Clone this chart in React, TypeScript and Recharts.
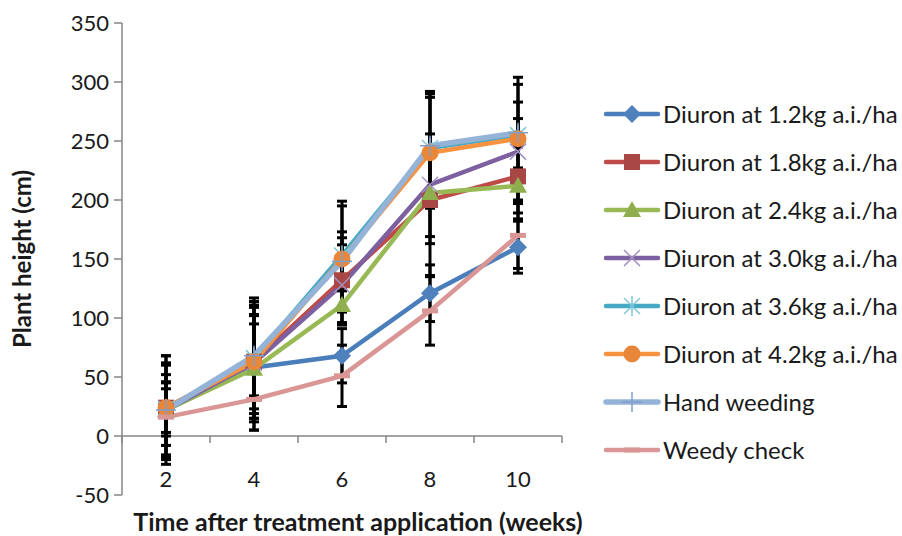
import { LineChart, Line, XAxis, YAxis, ErrorBar, ReferenceLine, Legend } from "recharts"

const FONT = "Lato, 'Open Sans', sans-serif"
const AXIS_GRAY = "#868686"
const TEXT = "#1a1a1a"

const WEEKS = [2, 4, 6, 8, 10]
const Y_TICKS = [-50, 0, 50, 100, 150, 200, 250, 300, 350]

// mean plant height (cm) per week
const D12 = [22, 58, 68, 121, 160]
const D18 = [24, 63, 132, 200, 220]
const D24 = [22, 57, 111, 206, 212]
const D30 = [22, 62, 128, 213, 241]
const D36 = [23, 66, 153, 244, 255]
const D42 = [24, 63, 150, 240, 252]
const HAND = [22, 68, 148, 246, 257]
const WEEDY = [16, 31, 51, 106, 170]

// error bar half-lengths
const E12 = [46, 53, 23, 24, 22]
const E18 = [44, 51, 36, 37, 31]
const E24 = [40, 38, 15, 37, 15]
const E30 = [38, 47, 34, 77, 57]
const E36 = [23, 51, 46, 48, 28]
const E42 = [21, 40, 45, 47, 52]
const EHAND = [30, 34, 25, 10, 12]
const EWEEDY = [24, 26, 26, 29, 28]

const SERIES = [
  { key: "d12", name: "Diuron at 1.2kg a.i./ha", values: D12, errors: E12, color: "#4A7EBB", mark: "#4F81BD", marker: "diamond", width: 4.5 },
  { key: "d18", name: "Diuron at 1.8kg a.i./ha", values: D18, errors: E18, color: "#BE4B48", mark: "#A94744", marker: "square", width: 4.5 },
  { key: "d24", name: "Diuron at 2.4kg a.i./ha", values: D24, errors: E24, color: "#98B954", mark: "#8FAF4F", marker: "triangle", width: 4.5 },
  { key: "d30", name: "Diuron at 3.0kg a.i./ha", values: D30, errors: E30, color: "#7D60A0", mark: "#A391C4", marker: "x", width: 4.5 },
  { key: "d36", name: "Diuron at 3.6kg a.i./ha", values: D36, errors: E36, color: "#46AAC5", mark: "#7CC6DA", marker: "star", width: 4.5 },
  { key: "d42", name: "Diuron at 4.2kg a.i./ha", values: D42, errors: E42, color: "#F69240", mark: "#E8863A", marker: "circle", width: 4.5 },
  { key: "hand", name: "Hand weeding", values: HAND, errors: EHAND, color: "#94B3D6", mark: "#7F9FCB", marker: "plus", width: 5.5 },
  { key: "weedy", name: "Weedy check", values: WEEDY, errors: EWEEDY, color: "#D99694", mark: "#D99694", marker: "dash", width: 4.5 },
]

const data = WEEKS.map((w, i) => {
  const row: Record<string, number> = { week: w }
  SERIES.forEach((s) => {
    row[s.key] = s.values[i]
    row[s.key + "_err"] = s.errors[i]
  })
  return row
})

function Marker({ shape, cx, cy, color }: { shape: string; cx: number; cy: number; color: string }) {
  switch (shape) {
    case "diamond":
      return <polygon points={`${cx},${cy - 9} ${cx + 9},${cy} ${cx},${cy + 9} ${cx - 9},${cy}`} fill={color} />
    case "square":
      return <rect x={cx - 8} y={cy - 8} width={16} height={16} fill={color} />
    case "triangle":
      return <polygon points={`${cx},${cy - 9} ${cx + 9},${cy + 7} ${cx - 9},${cy + 7}`} fill={color} />
    case "x":
      return (
        <g stroke={color} strokeWidth={1.5}>
          <line x1={cx - 8} y1={cy - 8} x2={cx + 8} y2={cy + 8} />
          <line x1={cx - 8} y1={cy + 8} x2={cx + 8} y2={cy - 8} />
        </g>
      )
    case "star":
      return (
        <g stroke={color} strokeWidth={1.5}>
          <line x1={cx - 8} y1={cy - 8} x2={cx + 8} y2={cy + 8} />
          <line x1={cx - 8} y1={cy + 8} x2={cx + 8} y2={cy - 8} />
          <line x1={cx} y1={cy - 10} x2={cx} y2={cy + 10} />
        </g>
      )
    case "circle":
      return <circle cx={cx} cy={cy} r={8.5} fill={color} />
    case "plus":
      return (
        <g stroke={color} strokeWidth={1.5}>
          <line x1={cx} y1={cy - 10} x2={cx} y2={cy + 10} />
          <line x1={cx - 10} y1={cy} x2={cx + 10} y2={cy} />
        </g>
      )
    case "dash":
      return <rect x={cx - 8} y={cy - 2.5} width={16} height={5} fill={color} />
    default:
      return null
  }
}

function WeekTick({ x, y, payload, index }: any) {
  // labels and tick marks sit on the y = 0 line, one y step above the plot bottom
  const zeroY = y - 59
  return (
    <g>
      <text x={x} y={y - 17} textAnchor="middle" dominantBaseline="central" fontFamily={FONT} fontSize={22} fill={TEXT}>
        {payload.value}
      </text>
      <line x1={x + 44} x2={x + 44} y1={zeroY} y2={zeroY + 7} stroke={AXIS_GRAY} strokeWidth={1.5} />
      {index === 0 && <line x1={x - 44} x2={x - 44} y1={zeroY} y2={zeroY + 7} stroke={AXIS_GRAY} strokeWidth={1.5} />}
    </g>
  )
}

function LegendBox() {
  return (
    <div style={{ fontFamily: FONT, fontSize: 24, color: TEXT, lineHeight: 1 }}>
      {SERIES.map((s) => (
        <div key={s.key} style={{ display: "flex", alignItems: "center", height: 48, whiteSpace: "nowrap" }}>
          <svg width={58} height={26}>
            <line x1={3} x2={55} y1={13} y2={13} stroke={s.color} strokeWidth={s.width} strokeLinecap="round" />
            <Marker shape={s.marker} cx={29} cy={13} color={s.mark} />
          </svg>
          <span style={{ marginLeft: 2 }}>{s.name}</span>
        </div>
      ))}
    </div>
  )
}

export default function App() {
  return (
    <div style={{ position: "absolute", left: 0, top: 0, background: "#fff" }}>
      <LineChart width={902} height={536} data={data} margin={{ top: 23, right: 340, bottom: 0, left: 0 }}>
        <ReferenceLine y={0} stroke={AXIS_GRAY} strokeWidth={1.5} />
        <XAxis
          dataKey="week"
          height={41}
          padding={{ left: 44, right: 44 }}
          axisLine={false}
          tickLine={false}
          tickSize={0}
          tickMargin={0}
          interval={0}
          tick={<WeekTick />}
          label={{
            value: "Time after treatment application  (weeks)",
            position: "insideBottom",
            offset: 5,
            dx: 16,
            style: { fontFamily: FONT, fontSize: 25, fontWeight: 700, fill: TEXT, whiteSpace: "pre" },
          }}
        />
        <YAxis
          width={122}
          domain={[-50, 350]}
          ticks={Y_TICKS}
          interval={0}
          axisLine={{ stroke: AXIS_GRAY, strokeWidth: 1.5 }}
          tickLine={{ stroke: AXIS_GRAY, strokeWidth: 1.5 }}
          tickSize={8}
          tickMargin={5}
          tick={{ fontFamily: FONT, fontSize: 22, fill: TEXT }}
          label={{
            value: "Plant height (cm)",
            angle: -90,
            position: "insideLeft",
            offset: 22,
            style: { textAnchor: "middle", fontFamily: FONT, fontSize: 24, fontWeight: 700, fill: TEXT },
          }}
        />
        <Legend
          layout="horizontal"
          align="center"
          verticalAlign="middle"
          content={<LegendBox />}
          wrapperStyle={{ left: 603, top: 90, width: 300 }}
        />
        {SERIES.map((s) => (
          <Line
            key={s.key}
            dataKey={s.key}
            name={s.name}
            stroke={s.color}
            strokeWidth={s.width}
            isAnimationActive={false}
            activeDot={false}
            dot={(p: any) => (
              <g key={`${s.key}-${p.index}`}>
                <Marker shape={s.marker} cx={p.cx} cy={p.cy} color={s.mark} />
              </g>
            )}
          >
            <ErrorBar dataKey={s.key + "_err"} direction="y" width={5} strokeWidth={3} stroke="#000" isAnimationActive={false} />
          </Line>
        ))}
      </LineChart>
    </div>
  )
}
